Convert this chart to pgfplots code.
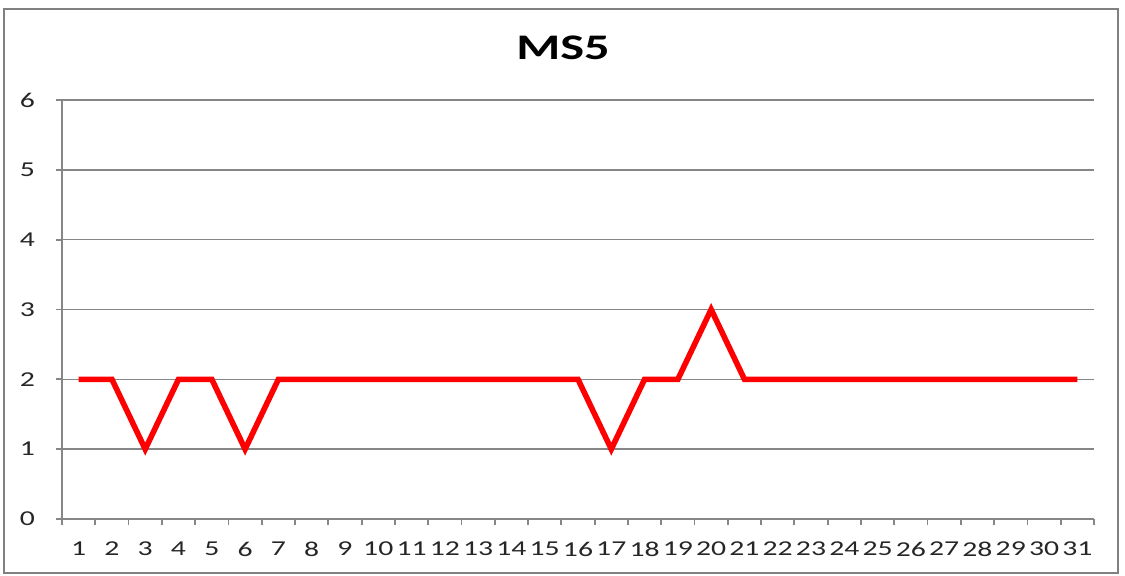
\documentclass[border=0pt]{standalone}
\usepackage{pgfplots}
\pgfplotsset{compat=1.18}
\usepackage{fontspec}
\setmainfont{Carlito}[FakeStretch=1.4]
\definecolor{axgray}{RGB}{134,134,134}
\definecolor{framegray}{RGB}{128,128,128}
\begin{document}
\begin{tikzpicture}
\path[use as bounding box] (-31pt,-28.5pt) rectangle (531.5pt,259.5pt);
\draw[framegray, line width=1.2pt] (-29pt,-27pt) rectangle (528pt,255pt);
\begin{axis}[
  at={(0,0)}, anchor=south west,
  scale only axis, width=516pt, height=209.5pt,
  xmin=0.5, xmax=31.5, ymin=0, ymax=6,
  axis x line*=bottom, axis y line*=left,
  axis line style={axgray, line width=0.9pt, -},
  xtick={1,...,31},
  minor xtick={0.5,1.5,...,31.5},
  ytick={0,...,6},
  ymajorgrids,
  grid style={axgray, line width=0.8pt},
  major x tick style={draw=none},
  minor x tick style={axgray, line width=0.9pt},
  major y tick style={axgray, line width=0.9pt},
  tick align=outside,
  major tick length=3pt, minor tick length=3pt,
  tick label style={font=\fontsize{10.6}{12}\selectfont, text=black!85},
  /pgf/number format/assume math mode=true,
  xticklabel style={yshift=-5pt},
  yticklabel style={xshift=-7pt},
  clip=false,
]
\addplot[red, line width=2.8pt, line join=miter] coordinates {
(1,2) (2,2) (3,1) (4,2) (5,2) (6,1) (7,2) (8,2) (9,2) (10,2) (11,2) (12,2) (13,2) (14,2) (15,2) (16,2) (17,1) (18,2) (19,2) (20,3) (21,2) (22,2) (23,2) (24,2) (25,2) (26,2) (27,2) (28,2) (29,2) (30,2) (31,2)
};
\end{axis}
\node[font=\fontsize{18}{22}\selectfont\bfseries, anchor=base] at (250.5pt,229.5pt) {MS5};
\end{tikzpicture}
\end{document}
